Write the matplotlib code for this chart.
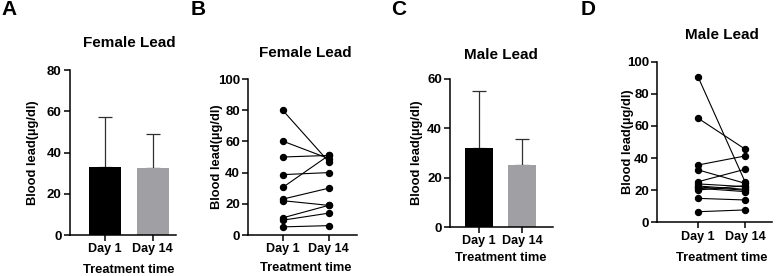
import numpy as np
import matplotlib
matplotlib.use('Agg')
import matplotlib.pyplot as plt

plt.rcParams['font.family'] = ['Liberation Sans', 'DejaVu Sans']
plt.rcParams['font.weight'] = 'bold'
plt.rcParams['axes.labelweight'] = 'bold'
plt.rcParams['axes.titleweight'] = 'bold'

days = ['Day 1', 'Day 14']

# female summary bars (mean, sd)
female_mean = [33.0, 32.5]
female_sd = [24.3, 16.8]
# female paired values
female_day1 = [80, 60.2, 50, 38.7, 30.5, 23, 22, 11, 9.5, 5.2]
female_day14 = [47, 49, 51, 40, 51, 30, 19, 19, 14, 6]

# male summary bars
male_mean = [32.0, 25.0]
male_sd = [23.0, 10.7]
# male paired values
male_day1 = [90.2, 64.7, 35.7, 32.6, 25.3, 23.9, 22.6, 21.2, 20.1, 22.0, 14.9, 6.6]
male_day14 = [25.3, 45.6, 41.3, 24.3, 33.0, 22.2, 20.5, 19.1, 22.8, 20.0, 13.9, 7.7]

W, H = 777, 276
fig = plt.figure(figsize=(W / 100, H / 100), dpi=100)


def px(x, y):
    return x / W, 1 - y / H


def make_ax(x0, x1, ytop, ybot, tick1, tick2, ylab_x, xlab_y, title, title_y):
    ax = fig.add_axes([x0 / W, 1 - ybot / H, (x1 - x0) / W, (ybot - ytop) / H])
    sp = tick2 - tick1
    ax.set_xlim(-(tick1 - x0) / sp, 1 + (x1 - tick2) / sp)
    for s in ['top', 'right']:
        ax.spines[s].set_visible(False)
    for s in ['left', 'bottom']:
        ax.spines[s].set_linewidth(1.1)
    ax.tick_params(width=1.1, length=4, labelsize=9.5, pad=2)
    ax.set_xticks([0, 1])
    ax.set_xticklabels(days, fontsize=9)
    ax.set_ylabel('Blood lead(µg/dl)', fontsize=9.3)
    ax.set_xlabel('Treatment time', fontsize=9.3)
    ax.yaxis.set_label_coords(*px(ylab_x, 0), transform=fig.transFigure)
    ax.yaxis.label.set_va('center')
    ax.yaxis.label.set_y(1 - (ytop + ybot) / 2 / H)
    mid = (tick1 + tick2) / 2
    ax.xaxis.set_label_coords(*px(mid, xlab_y), transform=fig.transFigure)
    ax.xaxis.label.set_va('center')
    fig.text(*px(mid, title_y), title, fontsize=11,
             fontweight='bold', ha='center', va='center')
    return ax


def bar_panel(ax, mean, sd, ymax, step, width):
    ax.bar([0, 1], mean, width=width, color=['black', '#a0a0a4'], zorder=2)
    ax.errorbar([0, 1], mean, yerr=[[0, 0], sd], fmt='none', ecolor='#303030',
                elinewidth=0.9, capsize=5, capthick=0.9, zorder=1)
    ax.set_ylim(0, ymax)
    ax.set_yticks(np.arange(0, ymax + 1, step))


def pair_panel(ax, d1, d14):
    for a, b in zip(d1, d14):
        ax.plot([0, 1], [a, b], color='black', lw=0.8, marker='o', ms=4.3)
    ax.set_ylim(0, 100)
    ax.set_yticks(np.arange(0, 101, 20))


axA = make_ax(70, 176, 70.3, 235, 105, 152.7, 33, 270, 'Female Lead', 43)
bar_panel(axA, female_mean, female_sd, 80, 20, 0.67)

axB = make_ax(248.3, 357, 79, 235, 282.7, 328.7, 216.7, 268, 'Female Lead', 53)
pair_panel(axB, female_day1, female_day14)

axC = make_ax(450.3, 553, 79, 227, 479.3, 522, 416.7, 258, 'Male Lead', 55)
bar_panel(axC, male_mean, male_sd, 60, 20, 0.66)

axD = make_ax(657.3, 772, 61.7, 222.3, 698.3, 745, 628.3, 257.7, 'Male Lead', 35)
pair_panel(axD, male_day1, male_day14)

for letter, x in zip('ABCD', [1, 191, 391, 581]):
    fig.text(*px(x, 0), letter, fontsize=15, fontweight='bold',
             ha='left', va='top')

fig.savefig('out.png', dpi=100)
